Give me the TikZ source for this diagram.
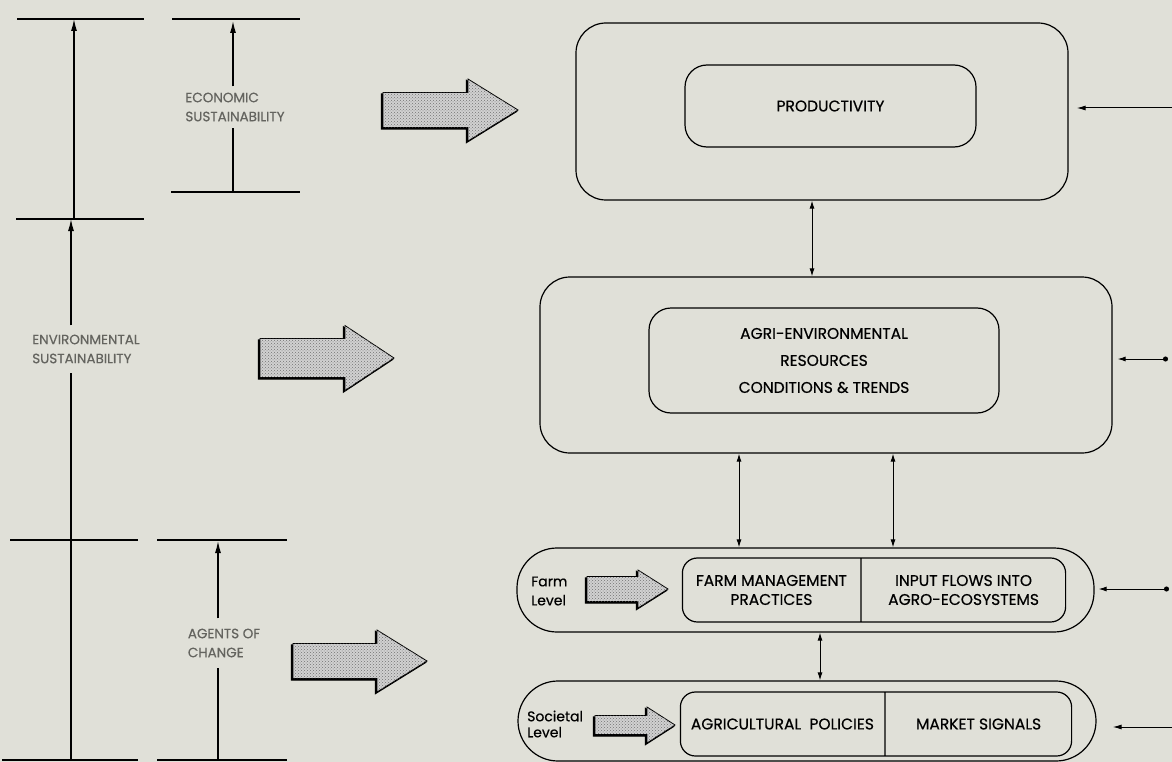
\documentclass[tikz,border=0pt]{standalone}
\usepackage{fontspec}
\setmainfont{Poppins}[FakeBold=0.5]
\usepackage{tikz}
\usetikzlibrary{shapes.multipart}
\usetikzlibrary{arrows.meta}
\usetikzlibrary{patterns}
\definecolor{paper}{RGB}{224,224,216}
\definecolor{fadeink}{RGB}{100,100,95}

% fat hollow arrow: left x, mid y, tip x, half shaft, half head, head start x
\newcommand{\fatarrow}[6]{%
\draw[fatshadow] (#1,#2-#4) -- (#6,#2-#4) -- (#6,#2-#5) -- (#3,#2) -- (#6,#2+#5) -- (#6,#2+#4) -- (#1,#2+#4) -- cycle;
\draw[fatbody] (#1,#2-#4) -- (#6,#2-#4) -- (#6,#2-#5) -- (#3,#2) -- (#6,#2+#5) -- (#6,#2+#4) -- (#1,#2+#4) -- cycle;}

\begin{document}
\begin{tikzpicture}[x=1pt,y=-1pt,
outer/.style={draw,line width=1.2pt,rounded corners=30pt,inner sep=0pt},
inner/.style={draw,line width=1.2pt,rounded corners=22pt,inner sep=0pt,align=center,font=\fontsize{15.5pt}{27pt}\selectfont},
twopart/.style={draw,line width=1.2pt,rounded corners=15pt,rectangle split,rectangle split horizontal,rectangle split parts=2,inner xsep=4pt,inner ysep=4pt,font=\fontsize{15.5pt}{19pt}\selectfont},
conn/.style={line width=1pt,{Latex[length=8pt,width=5pt]}-{Latex[length=8pt,width=5pt]}},
feed/.style={line width=1pt,-{Latex[length=9pt,width=5pt]}},
scaleline/.style={line width=1.3pt},
scalearrow/.style={line width=1.3pt,-{Latex[length=12pt,width=6pt]}},
faded/.style={text=fadeink,font=\fontsize{13.5pt}{19pt}\selectfont,align=left,inner xsep=0pt},
levellbl/.style={anchor=west,align=left,inner sep=0pt},
fatshadow/.style={fill=black,draw=black,line width=1.2pt,shift={(-1.5,1.5)}},
fatbody/.style={draw=black,line width=0.8pt,fill=black!18,postaction={pattern=crosshatch dots,pattern color=black!55}}]
\useasboundingbox (0,0) rectangle (1172,762);
\fill[paper] (0,0) rectangle (1172,762);

%scales on the left
\draw[scaleline] (17,19) -- (144,19);
\draw[scaleline] (16,219) -- (144,219);
\draw[scaleline] (10,540) -- (138,540);
\draw[scaleline] (2,760) -- (138,760);
\draw[scaleline] (172,19) -- (300,19);
\draw[scaleline] (171,192) -- (300,192);
\draw[scaleline] (157,540) -- (287,540);
\draw[scaleline] (157,760) -- (287,760);

\path (235,107) node(econlbl) [faded,inner ysep=6pt]{ECONOMIC\\SUSTAINABILITY};
\path (86,349) node(envlbl) [faded,inner ysep=9pt]{ENVIRONMENTAL\\SUSTAINABILITY};
\path (224,643) node(agentlbl) [faded,inner ysep=10pt]{AGENTS OF\\CHANGE};
\coordinate (ecbot) at (233,192);
\coordinate (envbot) at (71,760);
\coordinate (agbot) at (218,760);

\draw[scalearrow] (74,219) -- (74,19);
\draw[scaleline] (ecbot) -- (ecbot |- econlbl.south);
\draw[scalearrow] (ecbot |- econlbl.north) -- (233,21);
\draw[scaleline] (envbot) -- (envbot |- envlbl.south);
\draw[scalearrow] (envbot |- envlbl.north) -- (71,219);
\draw[scaleline] (agbot) -- (agbot |- agentlbl.south);
\draw[scalearrow] (agbot |- agentlbl.north) -- (218,541);

%big arrows
\fatarrow{383}{110}{518}{17.5}{31}{468}
\fatarrow{260}{358}{394}{19.5}{32.5}{345}
\fatarrow{293}{661}{427}{17.5}{31}{377}

%boxes
\path (822,111.5) node(prodbox) [outer,minimum width=492pt,minimum height=177pt]{};
\path (830.5,106) node(prod) [inner,minimum width=291pt,minimum height=82pt]{PRODUCTIVITY};
\path (826,365) node(agribox) [outer,minimum width=572pt,minimum height=176pt]{};
\path (824,360.5) node(agri) [inner,minimum width=350pt,minimum height=105pt]{AGRI-ENVIRONMENTAL\\RESOURCES\\CONDITIONS \& TRENDS};
\path (805.5,590) node(farmbox) [outer,rounded corners=40pt,minimum width=577pt,minimum height=84pt]{};
\path (874,590) node(farm) [twopart]{\parbox[c][56pt]{170pt}{\centering FARM MANAGEMENT\\PRACTICES}
\nodepart{two}\parbox[c][56pt]{196pt}{\centering INPUT FLOWS INTO\\AGRO-ECOSYSTEMS}};
\path (807,721) node(socbox) [outer,rounded corners=40pt,minimum width=578pt,minimum height=80pt]{};
\path (876,724) node(soc) [twopart]{\parbox[c][56pt]{196pt}{\centering AGRICULTURAL\ \ POLICIES}
\nodepart{two}\parbox[c][56pt]{178pt}{\centering MARKET SIGNALS}};

\path (531,591) node(farmlbl) [levellbl,font=\fontsize{14pt}{19pt}\selectfont]{Farm\\Level};
\path (527,724) node(soclbl) [levellbl,font=\fontsize{14pt}{16pt}\selectfont]{Societal\\Level};
\fatarrow{587}{589}{668}{12.5}{19}{638}
\fatarrow{595}{725}{675}{9.5}{18}{647}

%links between the boxes
\draw[conn] ([xshift=-10pt]prodbox.south) -- ([xshift=-10pt]prodbox.south |- agribox.north);
\draw[conn] ([xshift=-87pt]agribox.south) -- ([xshift=-87pt]agribox.south |- farmbox.north);
\draw[conn] ([xshift=67pt]agribox.south) -- ([xshift=67pt]agribox.south |- farmbox.north);
\draw[conn] ([xshift=14.5pt]farmbox.south) -- ([xshift=14.5pt]farmbox.south |- socbox.north);

%inputs from the right
\coordinate (inprod) at (1172,108);
\coordinate (inagri) at (1168,359);
\coordinate (infarm) at (1169,589);
\coordinate (insoc) at (1172,727);
\draw[feed,shorten >=8pt] (inprod) -- (inprod -| prodbox.east);
\draw[line width=1pt,{Latex[length=8pt,width=5pt]}-{Circle[length=5pt]},shorten <=5pt] (inagri -| agribox.east) -- (inagri);
\draw[line width=1pt,{Latex[length=8pt,width=5pt]}-{Circle[length=5pt]},shorten <=4pt] (infarm -| farmbox.east) -- (infarm);
\draw[feed,shorten >=16pt] (insoc) -- (insoc -| socbox.east);
\end{tikzpicture}
\end{document}
